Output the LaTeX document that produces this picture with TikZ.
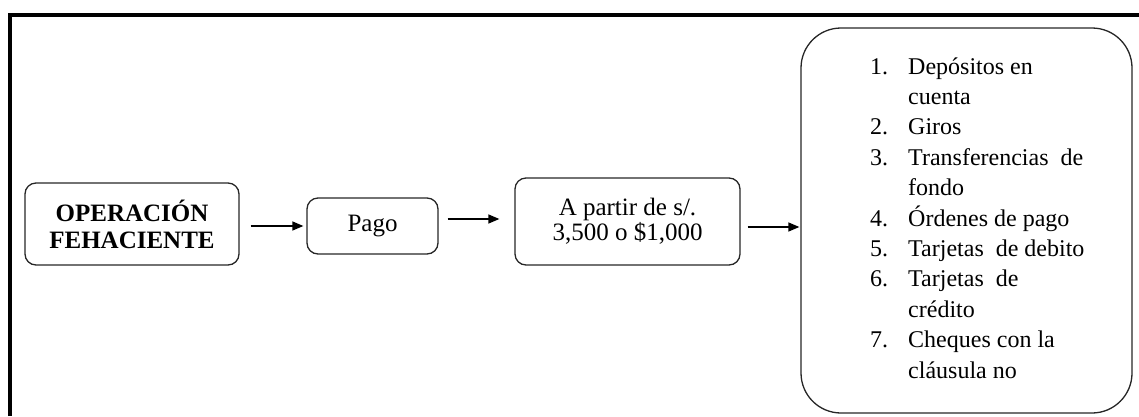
\documentclass[tikz,border=0pt]{standalone}
\usepackage{fontspec}
\setmainfont{Liberation Serif}
\usetikzlibrary{arrows.meta}
\tikzset{
  caja/.style={draw=black!85, line width=1.3pt, rounded corners=11pt, align=center, inner sep=0pt},
  flecha/.style={line width=1.3pt, -{Triangle[length=11pt,width=9pt]}}
}
\begin{document}
\begin{tikzpicture}[x=1pt,y=-1pt]
        \useasboundingbox (0,0) rectangle (1139,416);
        % marco exterior
        \draw[line width=4pt] (10.3,416) -- (10.3,15.3) -- (1139,15.3);
        \node[caja, minimum width=214pt, minimum height=82pt, font=\fontsize{25}{27}\selectfont\bfseries] (op) at (132,224)
          {OPERACIÓN\\ FEHACIENTE};
        \node[caja, minimum width=131pt, minimum height=56pt, font=\fontsize{25}{27}\selectfont] (pago) at (372.5,226)
          {Pago};
        \node[caja, minimum width=225pt, minimum height=87pt, font=\fontsize{25}{25}\selectfont] (monto) at (627.5,221.5)
          {A partir de s/.\\ 3,500 o \$1,000};
        \node[caja, rounded corners=40pt, minimum width=331pt, minimum height=385pt] (medios) at (966.5,220.5) {};
        \node[anchor=west, inner sep=0pt, font=\fontsize{24}{30.4}\selectfont] (lista) at (870,220) {%
          \begin{tabular}{@{}l@{\hspace{20pt}}l@{}}
            1. & Depósitos en\\
               & cuenta\\
            2. & Giros\\
            3. & Transferencias\ \ de\\
               & fondo\\
            4. & Órdenes de pago\\
            5. & Tarjetas\ \ de debito\\
            6. & Tarjetas\ \ de\\
               & crédito\\
            7. & Cheques con la\\
               & cláusula no
          \end{tabular}};
        % flechas
        \draw[flecha, shorten <=11pt, shorten >=3pt] (op.east |- pago.west) -- (pago.west);
        \draw[flecha, shorten <=9pt, shorten >=15pt] (pago.east |- 0,219) -- (monto.west |- 0,219);
        \draw[flecha, shorten <=7pt, shorten >=1pt] (monto.east |- 0,227) -- (medios.west |- 0,227);
      \end{tikzpicture}
\end{document}
